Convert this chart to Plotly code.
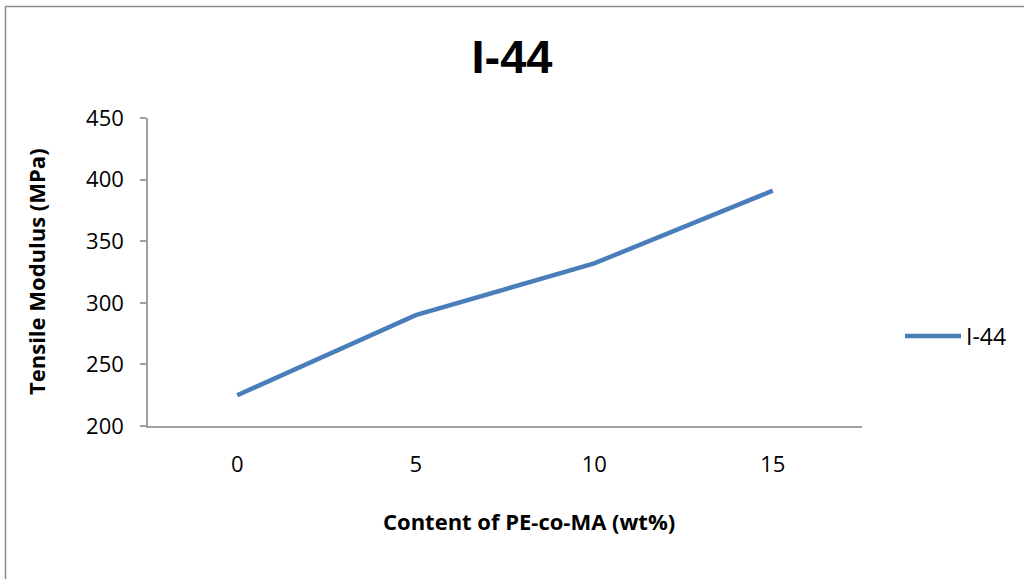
import plotly.graph_objects as go

categories = ["0", "5", "10", "15"]
modulus = [225, 290, 332, 391]
series_name = "I-44"
y_ticks = [200, 250, 300, 350, 400, 450]

L, R, T, B = 148, 862, 118, 426
W, H = 1024, 579

def px_x(p):
    return (p - L) / (R - L)

def px_y(p):
    return (B - p) / (B - T)

font_family = "Open Sans, Liberation Sans, sans-serif"

fig = go.Figure()
fig.add_trace(go.Scatter(
    x=categories, y=modulus, mode="lines", name=series_name,
    line=dict(color="#4A7EBB", width=4.5),
))

fig.update_layout(
    width=W, height=H,
    margin=dict(l=L, r=W - R, t=T, b=H - B),
    paper_bgcolor="white", plot_bgcolor="white",
    font=dict(family=font_family, size=22, color="black"),
    title=dict(text="<b>I-44</b>", x=0.5, xanchor="center", y=1 - 57 / H, yanchor="middle",
               font=dict(size=47, family="Liberation Sans, Arial, sans-serif", color="black")),
    showlegend=True,
    legend=dict(x=px_x(900), y=px_y(336), xanchor="left", yanchor="middle",
                font=dict(size=23), bgcolor="rgba(0,0,0,0)", itemwidth=56),
    xaxis=dict(type="category", range=[-0.5, 3.5], showgrid=False, zeroline=False,
               showline=True, linecolor="#A0A0A0", linewidth=1.5, ticks="",
               ticklabelstandoff=18, tickfont=dict(size=22), fixedrange=True),
    yaxis=dict(range=[200, 450], tickvals=y_ticks, showgrid=False, zeroline=False,
               showline=True, linecolor="#A0A0A0", linewidth=1.5, ticks="outside",
               ticklen=6, tickcolor="#A0A0A0", tickwidth=1.5,
               ticklabelstandoff=12, tickfont=dict(size=22), fixedrange=True),
)

fig.add_annotation(text="<b>Content of PE-co-MA (wt%)</b>", xref="paper", yref="paper",
                   x=px_x(529), y=px_y(521), showarrow=False, xanchor="center", yanchor="middle",
                   font=dict(size=22))
fig.add_annotation(text="<b>Tensile Modulus (MPa)</b>", xref="paper", yref="paper",
                   x=px_x(36), y=px_y(272), showarrow=False, xanchor="center", yanchor="middle",
                   textangle=-90, font=dict(size=22))

fig.add_shape(type="rect", xref="paper", yref="paper",
              x0=px_x(5.5), x1=px_x(1030), y0=px_y(590), y1=px_y(6.5),
              line=dict(color="#8C8C8C", width=1.5), fillcolor="rgba(0,0,0,0)", layer="below")

fig.write_html("out.html", config={"displayModeBar": False},
               post_script="document.body.style.margin='0';document.body.style.overflow='hidden';")
